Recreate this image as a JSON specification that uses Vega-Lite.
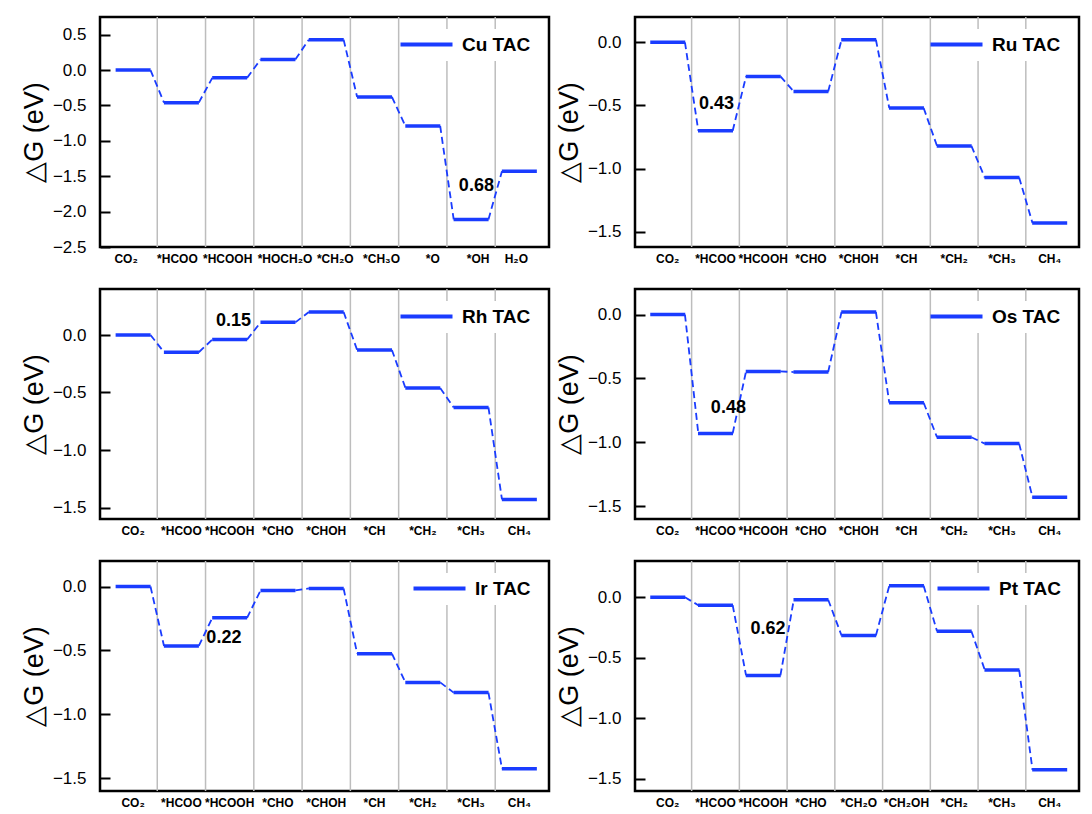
{
  "$schema": "https://vega.github.io/schema/vega-lite/v6.json",
  "padding": {"left": 19, "top": 15, "right": 0, "bottom": 0},
  "background": "white",
  "config": {
    "font": "Liberation Sans",
    "view": {"stroke": "black", "strokeWidth": 2.5},
    "axis": {"labelOverlap": false},
    "axisY": {"labelFontSize": 17, "titleFontSize": 27, "titleFontWeight": "normal", "labelColor": "black", "titleColor": "black", "domain": false, "grid": false, "format": ".1f", "titlePadding": 4, "labelOverlap": false, "ticks": true, "tickSize": 10, "offset": -10, "tickColor": "#000000", "tickOpacity": 1, "tickWidth": 2, "labelPadding": 14, "zindex": 2},
    "axisX": {"labelFontSize": 12, "labelFontWeight": "bold", "labelColor": "black", "labelAngle": 0, "ticks": false, "domain": false, "grid": false, "labelPadding": 6, "labelOverlap": false, "title": null},
    "legend": {"orient": "top-right", "offset": 12, "padding": 6, "fillColor": "white", "symbolType": "M-5.2,0H5.2", "symbolSize": 100, "symbolStrokeWidth": 4, "symbolStrokeColor": "#1a3cff", "symbolOpacity": 1, "labelFontSize": 19, "labelFontWeight": "bold", "labelColor": "black", "labelOffset": 26, "title": null},
    "tick": {"thickness": 3.5, "opacity": 1}
  },
  "datasets": {
    "g": [
      {"metal": "Cu TAC", "i": 1, "step": "CO₂", "G": 0},
      {"metal": "Cu TAC", "i": 2, "step": "*HCOO", "G": -0.46},
      {"metal": "Cu TAC", "i": 3, "step": "*HCOOH", "G": -0.11},
      {"metal": "Cu TAC", "i": 4, "step": "*HOCH₂O", "G": 0.15},
      {"metal": "Cu TAC", "i": 5, "step": "*CH₂O", "G": 0.43},
      {"metal": "Cu TAC", "i": 6, "step": "*CH₃O", "G": -0.38},
      {"metal": "Cu TAC", "i": 7, "step": "*O", "G": -0.79},
      {"metal": "Cu TAC", "i": 8, "step": "*OH", "G": -2.11},
      {"metal": "Cu TAC", "i": 9, "step": "H₂O", "G": -1.43},
      {"metal": "Ru TAC", "i": 1, "step": "CO₂", "G": 0},
      {"metal": "Ru TAC", "i": 2, "step": "*HCOO", "G": -0.70},
      {"metal": "Ru TAC", "i": 3, "step": "*HCOOH", "G": -0.27},
      {"metal": "Ru TAC", "i": 4, "step": "*CHO", "G": -0.39},
      {"metal": "Ru TAC", "i": 5, "step": "*CHOH", "G": 0.02},
      {"metal": "Ru TAC", "i": 6, "step": "*CH", "G": -0.52},
      {"metal": "Ru TAC", "i": 7, "step": "*CH₂", "G": -0.82},
      {"metal": "Ru TAC", "i": 8, "step": "*CH₃", "G": -1.07},
      {"metal": "Ru TAC", "i": 9, "step": "CH₄", "G": -1.43},
      {"metal": "Rh TAC", "i": 1, "step": "CO₂", "G": 0},
      {"metal": "Rh TAC", "i": 2, "step": "*HCOO", "G": -0.15},
      {"metal": "Rh TAC", "i": 3, "step": "*HCOOH", "G": -0.04},
      {"metal": "Rh TAC", "i": 4, "step": "*CHO", "G": 0.11},
      {"metal": "Rh TAC", "i": 5, "step": "*CHOH", "G": 0.20},
      {"metal": "Rh TAC", "i": 6, "step": "*CH", "G": -0.13},
      {"metal": "Rh TAC", "i": 7, "step": "*CH₂", "G": -0.46},
      {"metal": "Rh TAC", "i": 8, "step": "*CH₃", "G": -0.63},
      {"metal": "Rh TAC", "i": 9, "step": "CH₄", "G": -1.43},
      {"metal": "Os TAC", "i": 1, "step": "CO₂", "G": 0},
      {"metal": "Os TAC", "i": 2, "step": "*HCOO", "G": -0.93},
      {"metal": "Os TAC", "i": 3, "step": "*HCOOH", "G": -0.445},
      {"metal": "Os TAC", "i": 4, "step": "*CHO", "G": -0.45},
      {"metal": "Os TAC", "i": 5, "step": "*CHOH", "G": 0.02},
      {"metal": "Os TAC", "i": 6, "step": "*CH", "G": -0.69},
      {"metal": "Os TAC", "i": 7, "step": "*CH₂", "G": -0.96},
      {"metal": "Os TAC", "i": 8, "step": "*CH₃", "G": -1.01},
      {"metal": "Os TAC", "i": 9, "step": "CH₄", "G": -1.43},
      {"metal": "Ir TAC", "i": 1, "step": "CO₂", "G": 0},
      {"metal": "Ir TAC", "i": 2, "step": "*HCOO", "G": -0.465},
      {"metal": "Ir TAC", "i": 3, "step": "*HCOOH", "G": -0.245},
      {"metal": "Ir TAC", "i": 4, "step": "*CHO", "G": -0.03},
      {"metal": "Ir TAC", "i": 5, "step": "*CHOH", "G": -0.015},
      {"metal": "Ir TAC", "i": 6, "step": "*CH", "G": -0.525},
      {"metal": "Ir TAC", "i": 7, "step": "*CH₂", "G": -0.75},
      {"metal": "Ir TAC", "i": 8, "step": "*CH₃", "G": -0.83},
      {"metal": "Ir TAC", "i": 9, "step": "CH₄", "G": -1.425},
      {"metal": "Pt TAC", "i": 1, "step": "CO₂", "G": 0},
      {"metal": "Pt TAC", "i": 2, "step": "*HCOO", "G": -0.065},
      {"metal": "Pt TAC", "i": 3, "step": "*HCOOH", "G": -0.645},
      {"metal": "Pt TAC", "i": 4, "step": "*CHO", "G": -0.02},
      {"metal": "Pt TAC", "i": 5, "step": "*CH₂O", "G": -0.315},
      {"metal": "Pt TAC", "i": 6, "step": "*CH₂OH", "G": 0.095},
      {"metal": "Pt TAC", "i": 7, "step": "*CH₂", "G": -0.28},
      {"metal": "Pt TAC", "i": 8, "step": "*CH₃", "G": -0.60},
      {"metal": "Pt TAC", "i": 9, "step": "CH₄", "G": -1.425}
    ],
    "notes": [
      {"metal": "Cu TAC", "step": "*OH", "G": -1.64, "text": "0.68"},
      {"metal": "Ru TAC", "step": "*HCOO", "G": -0.49, "text": "0.43"},
      {"metal": "Rh TAC", "step": "*HCOOH", "G": 0.12, "text": "0.15"},
      {"metal": "Os TAC", "step": "*HCOO", "G": -0.73, "text": "0.48"},
      {"metal": "Ir TAC", "step": "*HCOOH", "G": -0.405, "text": "0.22"},
      {"metal": "Pt TAC", "step": "*HCOOH", "G": -0.26, "text": "0.62"}
    ]
  },
  "columns": 2,
  "spacing": {"row": 21, "column": 3},
  "resolve": {"scale": {"x": "independent", "y": "independent", "color": "independent"}, "legend": {"color": "independent"}},
  "concat": [
    {
      "width": 449, "height": 230,
      "layer": [
        {"data": {"name": "g"}, "transform": [{"filter": "datum.metal == 'Cu TAC' && datum.i > 1"}],
         "mark": {"type": "rule", "color": "#bdbdbd", "strokeWidth": 1.5},
         "encoding": {"x": {"field": "step", "type": "nominal", "bandPosition": 0,
           "scale": {"domain": ["CO₂", "*HCOO", "*HCOOH", "*HOCH₂O", "*CH₂O", "*CH₃O", "*O", "*OH", "H₂O"], "paddingInner": 0, "paddingOuter": 0.15, "align": 0.62},
           "axis": {"labelOffset": {"condition": [
             {"test": "datum.value == 'CO₂'", "value": -7},
             {"test": "datum.value == '*HCOO'", "value": -4},
             {"test": "datum.value == '*HCOOH'", "value": -2},
             {"test": "datum.value == '*HOCH₂O'", "value": 7},
             {"test": "datum.value == '*CH₂O'", "value": 9},
             {"test": "datum.value == '*CH₃O'", "value": 7},
             {"test": "datum.value == '*O'", "value": 10},
             {"test": "datum.value == '*OH'", "value": 7},
             {"test": "datum.value == 'H₂O'", "value": -3}], "value": 0}}}}},
        {"data": {"name": "g"}, "transform": [{"filter": "datum.metal == 'Cu TAC'"}],
         "mark": {"type": "tick", "size": 35, "thickness": 3.5, "opacity": 1},
         "encoding": {"x": {"field": "step", "type": "nominal"},
           "y": {"field": "G", "type": "quantitative", "title": "△G (eV)", "scale": {"domain": [-2.5, 0.75], "nice": false, "zero": false}, "axis": {"values": [-2.5, -2, -1.5, -1, -0.5, 0, 0.5], "labelOverlap": false, "tickCount": 7}},
           "color": {"field": "metal", "type": "nominal", "scale": {"range": ["#1a3cff"]}}}},
        {"data": {"name": "g"}, "transform": [{"filter": "datum.metal == 'Cu TAC'"}, {"window": [{"op": "lead", "field": "G", "as": "G2"}, {"op": "lead", "field": "step", "as": "step2"}], "sort": [{"field": "i"}]}, {"filter": "datum.step2 != null"}],
         "mark": {"type": "rule", "color": "#1a3cff", "strokeWidth": 1.8, "strokeDash": [7, 4]},
         "encoding": {"x": {"field": "step", "type": "nominal", "bandPosition": 0.86}, "x2": {"field": "step2", "bandPosition": 0.14},
           "y": {"field": "G", "type": "quantitative", "axis": {"values": [-2.5, -2, -1.5, -1, -0.5, 0, 0.5], "labelOverlap": false, "tickCount": 7}}, "y2": {"field": "G2"}}},
        {"data": {"name": "notes"}, "transform": [{"filter": "datum.metal == 'Cu TAC'"}],
         "mark": {"type": "text", "fontSize": 18, "fontWeight": "bold", "color": "black"},
         "encoding": {"x": {"field": "step", "type": "nominal", "bandPosition": 0.61}, "y": {"field": "G", "type": "quantitative", "axis": {"values": [-2.5, -2, -1.5, -1, -0.5, 0, 0.5], "labelOverlap": false, "tickCount": 7}}, "text": {"field": "text"}}}
      ]
    },
    {
      "width": 444, "height": 230,
      "layer": [
        {"data": {"name": "g"}, "transform": [{"filter": "datum.metal == 'Ru TAC' && datum.i > 1"}],
         "mark": {"type": "rule", "color": "#bdbdbd", "strokeWidth": 1.5},
         "encoding": {"x": {"field": "step", "type": "nominal", "bandPosition": 0,
           "scale": {"domain": ["CO₂", "*HCOO", "*HCOOH", "*CHO", "*CHOH", "*CH", "*CH₂", "*CH₃", "CH₄"], "paddingInner": 0, "paddingOuter": 0.15, "align": 0.62}}}},
        {"data": {"name": "g"}, "transform": [{"filter": "datum.metal == 'Ru TAC'"}],
         "mark": {"type": "tick", "size": 35, "thickness": 3.5, "opacity": 1},
         "encoding": {"x": {"field": "step", "type": "nominal"},
           "y": {"field": "G", "type": "quantitative", "title": "△G (eV)", "scale": {"domain": [-1.62, 0.2], "nice": false, "zero": false}, "axis": {"values": [-1.5, -1, -0.5, 0]}},
           "color": {"field": "metal", "type": "nominal", "scale": {"range": ["#1a3cff"]}}}},
        {"data": {"name": "g"}, "transform": [{"filter": "datum.metal == 'Ru TAC'"}, {"window": [{"op": "lead", "field": "G", "as": "G2"}, {"op": "lead", "field": "step", "as": "step2"}], "sort": [{"field": "i"}]}, {"filter": "datum.step2 != null"}],
         "mark": {"type": "rule", "color": "#1a3cff", "strokeWidth": 1.8, "strokeDash": [7, 4]},
         "encoding": {"x": {"field": "step", "type": "nominal", "bandPosition": 0.86}, "x2": {"field": "step2", "bandPosition": 0.14},
           "y": {"field": "G", "type": "quantitative"}, "y2": {"field": "G2"}}},
        {"data": {"name": "notes"}, "transform": [{"filter": "datum.metal == 'Ru TAC'"}],
         "mark": {"type": "text", "fontSize": 18, "fontWeight": "bold", "color": "black"},
         "encoding": {"x": {"field": "step", "type": "nominal", "bandPosition": 0.52}, "y": {"field": "G", "type": "quantitative"}, "text": {"field": "text"}}}
      ]
    },
    {
      "width": 449, "height": 230,
      "layer": [
        {"data": {"name": "g"}, "transform": [{"filter": "datum.metal == 'Rh TAC' && datum.i > 1"}],
         "mark": {"type": "rule", "color": "#bdbdbd", "strokeWidth": 1.5},
         "encoding": {"x": {"field": "step", "type": "nominal", "bandPosition": 0,
           "scale": {"domain": ["CO₂", "*HCOO", "*HCOOH", "*CHO", "*CHOH", "*CH", "*CH₂", "*CH₃", "CH₄"], "paddingInner": 0, "paddingOuter": 0.15, "align": 0.62}}}},
        {"data": {"name": "g"}, "transform": [{"filter": "datum.metal == 'Rh TAC'"}],
         "mark": {"type": "tick", "size": 35, "thickness": 3.5, "opacity": 1},
         "encoding": {"x": {"field": "step", "type": "nominal"},
           "y": {"field": "G", "type": "quantitative", "title": "△G (eV)", "scale": {"domain": [-1.6, 0.4], "nice": false, "zero": false}, "axis": {"values": [-1.5, -1, -0.5, 0]}},
           "color": {"field": "metal", "type": "nominal", "scale": {"range": ["#1a3cff"]}}}},
        {"data": {"name": "g"}, "transform": [{"filter": "datum.metal == 'Rh TAC'"}, {"window": [{"op": "lead", "field": "G", "as": "G2"}, {"op": "lead", "field": "step", "as": "step2"}], "sort": [{"field": "i"}]}, {"filter": "datum.step2 != null"}],
         "mark": {"type": "rule", "color": "#1a3cff", "strokeWidth": 1.8, "strokeDash": [7, 4]},
         "encoding": {"x": {"field": "step", "type": "nominal", "bandPosition": 0.86}, "x2": {"field": "step2", "bandPosition": 0.14},
           "y": {"field": "G", "type": "quantitative"}, "y2": {"field": "G2"}}},
        {"data": {"name": "notes"}, "transform": [{"filter": "datum.metal == 'Rh TAC'"}],
         "mark": {"type": "text", "fontSize": 18, "fontWeight": "bold", "color": "black"},
         "encoding": {"x": {"field": "step", "type": "nominal", "bandPosition": 0.58}, "y": {"field": "G", "type": "quantitative"}, "text": {"field": "text"}}}
      ]
    },
    {
      "width": 444, "height": 230,
      "layer": [
        {"data": {"name": "g"}, "transform": [{"filter": "datum.metal == 'Os TAC' && datum.i > 1"}],
         "mark": {"type": "rule", "color": "#bdbdbd", "strokeWidth": 1.5},
         "encoding": {"x": {"field": "step", "type": "nominal", "bandPosition": 0,
           "scale": {"domain": ["CO₂", "*HCOO", "*HCOOH", "*CHO", "*CHOH", "*CH", "*CH₂", "*CH₃", "CH₄"], "paddingInner": 0, "paddingOuter": 0.15, "align": 0.62}}}},
        {"data": {"name": "g"}, "transform": [{"filter": "datum.metal == 'Os TAC'"}],
         "mark": {"type": "tick", "size": 35, "thickness": 3.5, "opacity": 1},
         "encoding": {"x": {"field": "step", "type": "nominal"},
           "y": {"field": "G", "type": "quantitative", "title": "△G (eV)", "scale": {"domain": [-1.6, 0.2], "nice": false, "zero": false}, "axis": {"values": [-1.5, -1, -0.5, 0]}},
           "color": {"field": "metal", "type": "nominal", "scale": {"range": ["#1a3cff"]}}}},
        {"data": {"name": "g"}, "transform": [{"filter": "datum.metal == 'Os TAC'"}, {"window": [{"op": "lead", "field": "G", "as": "G2"}, {"op": "lead", "field": "step", "as": "step2"}], "sort": [{"field": "i"}]}, {"filter": "datum.step2 != null"}],
         "mark": {"type": "rule", "color": "#1a3cff", "strokeWidth": 1.8, "strokeDash": [7, 4]},
         "encoding": {"x": {"field": "step", "type": "nominal", "bandPosition": 0.86}, "x2": {"field": "step2", "bandPosition": 0.14},
           "y": {"field": "G", "type": "quantitative"}, "y2": {"field": "G2"}}},
        {"data": {"name": "notes"}, "transform": [{"filter": "datum.metal == 'Os TAC'"}],
         "mark": {"type": "text", "fontSize": 18, "fontWeight": "bold", "color": "black"},
         "encoding": {"x": {"field": "step", "type": "nominal", "bandPosition": 0.77}, "y": {"field": "G", "type": "quantitative"}, "text": {"field": "text"}}}
      ]
    },
    {
      "width": 449, "height": 230,
      "layer": [
        {"data": {"name": "g"}, "transform": [{"filter": "datum.metal == 'Ir TAC' && datum.i > 1"}],
         "mark": {"type": "rule", "color": "#bdbdbd", "strokeWidth": 1.5},
         "encoding": {"x": {"field": "step", "type": "nominal", "bandPosition": 0,
           "scale": {"domain": ["CO₂", "*HCOO", "*HCOOH", "*CHO", "*CHOH", "*CH", "*CH₂", "*CH₃", "CH₄"], "paddingInner": 0, "paddingOuter": 0.15, "align": 0.62}}}},
        {"data": {"name": "g"}, "transform": [{"filter": "datum.metal == 'Ir TAC'"}],
         "mark": {"type": "tick", "size": 35, "thickness": 3.5, "opacity": 1},
         "encoding": {"x": {"field": "step", "type": "nominal"},
           "y": {"field": "G", "type": "quantitative", "title": "△G (eV)", "scale": {"domain": [-1.6, 0.2], "nice": false, "zero": false}, "axis": {"values": [-1.5, -1, -0.5, 0]}},
           "color": {"field": "metal", "type": "nominal", "scale": {"range": ["#1a3cff"]}}}},
        {"data": {"name": "g"}, "transform": [{"filter": "datum.metal == 'Ir TAC'"}, {"window": [{"op": "lead", "field": "G", "as": "G2"}, {"op": "lead", "field": "step", "as": "step2"}], "sort": [{"field": "i"}]}, {"filter": "datum.step2 != null"}],
         "mark": {"type": "rule", "color": "#1a3cff", "strokeWidth": 1.8, "strokeDash": [7, 4]},
         "encoding": {"x": {"field": "step", "type": "nominal", "bandPosition": 0.86}, "x2": {"field": "step2", "bandPosition": 0.14},
           "y": {"field": "G", "type": "quantitative"}, "y2": {"field": "G2"}}},
        {"data": {"name": "notes"}, "transform": [{"filter": "datum.metal == 'Ir TAC'"}],
         "mark": {"type": "text", "fontSize": 18, "fontWeight": "bold", "color": "black"},
         "encoding": {"x": {"field": "step", "type": "nominal", "bandPosition": 0.38}, "y": {"field": "G", "type": "quantitative"}, "text": {"field": "text"}}}
      ]
    },
    {
      "width": 444, "height": 230,
      "layer": [
        {"data": {"name": "g"}, "transform": [{"filter": "datum.metal == 'Pt TAC' && datum.i > 1"}],
         "mark": {"type": "rule", "color": "#bdbdbd", "strokeWidth": 1.5},
         "encoding": {"x": {"field": "step", "type": "nominal", "bandPosition": 0,
           "scale": {"domain": ["CO₂", "*HCOO", "*HCOOH", "*CHO", "*CH₂O", "*CH₂OH", "*CH₂", "*CH₃", "CH₄"], "paddingInner": 0, "paddingOuter": 0.15, "align": 0.62}}}},
        {"data": {"name": "g"}, "transform": [{"filter": "datum.metal == 'Pt TAC'"}],
         "mark": {"type": "tick", "size": 35, "thickness": 3.5, "opacity": 1},
         "encoding": {"x": {"field": "step", "type": "nominal"},
           "y": {"field": "G", "type": "quantitative", "title": "△G (eV)", "scale": {"domain": [-1.6, 0.3], "nice": false, "zero": false}, "axis": {"values": [-1.5, -1, -0.5, 0]}},
           "color": {"field": "metal", "type": "nominal", "scale": {"range": ["#1a3cff"]}}}},
        {"data": {"name": "g"}, "transform": [{"filter": "datum.metal == 'Pt TAC'"}, {"window": [{"op": "lead", "field": "G", "as": "G2"}, {"op": "lead", "field": "step", "as": "step2"}], "sort": [{"field": "i"}]}, {"filter": "datum.step2 != null"}],
         "mark": {"type": "rule", "color": "#1a3cff", "strokeWidth": 1.8, "strokeDash": [7, 4]},
         "encoding": {"x": {"field": "step", "type": "nominal", "bandPosition": 0.86}, "x2": {"field": "step2", "bandPosition": 0.14},
           "y": {"field": "G", "type": "quantitative"}, "y2": {"field": "G2"}}},
        {"data": {"name": "notes"}, "transform": [{"filter": "datum.metal == 'Pt TAC'"}],
         "mark": {"type": "text", "fontSize": 18, "fontWeight": "bold", "color": "black"},
         "encoding": {"x": {"field": "step", "type": "nominal", "bandPosition": 0.60}, "y": {"field": "G", "type": "quantitative"}, "text": {"field": "text"}}}
      ]
    }
  ]
}
